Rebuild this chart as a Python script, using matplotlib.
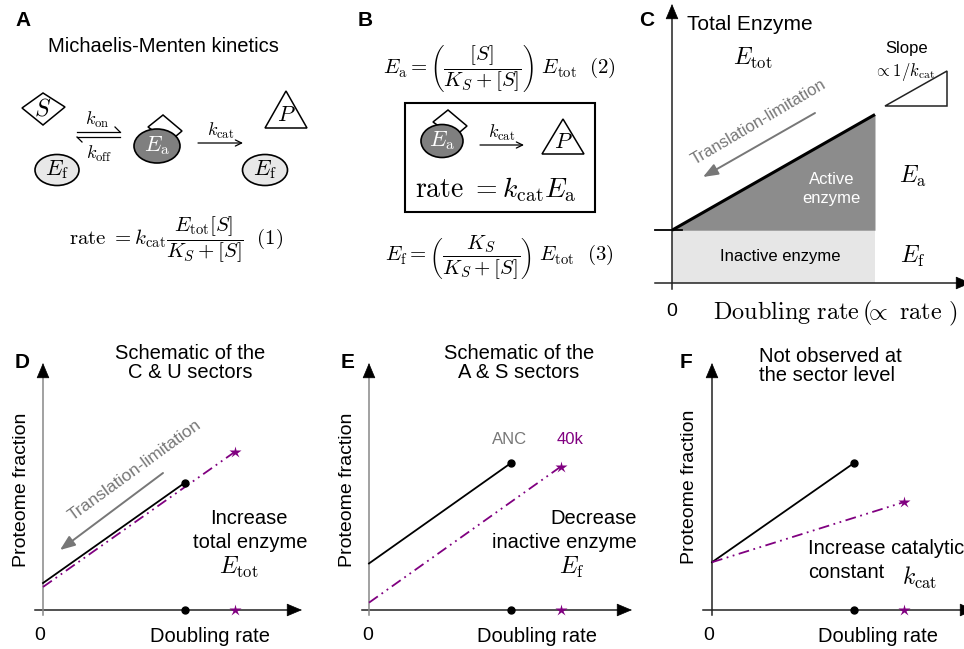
import matplotlib
matplotlib.use("Agg")
import matplotlib.pyplot as plt
from matplotlib.patches import Ellipse, Polygon, Rectangle

plt.rcParams['font.family'] = ['Liberation Sans', 'DejaVu Sans']
plt.rcParams['mathtext.fontset'] = 'cm'

W, H = 964, 649
PURPLE = '#800080'
GREY = '#777777'

# doubling rates of the two strains
rate_anc = 1.0
rate_40k = 1.35

# panel C: enzyme budget against doubling rate
c_rate = [0.0, 1.0]
c_inactive = [0.26, 0.26]
c_total = [0.26, 0.83]

# panels D-F: proteome fraction at zero growth and at each strain's rate
d_anc = [0.11, 0.52]
d_40k = [0.094, 0.645]
e_anc = [0.19, 0.60]
e_40k = [0.03, 0.585]
f_anc = [0.195, 0.60]
f_40k = [0.195, 0.44]

fig = plt.figure(figsize=(W / 100, H / 100), dpi=100)


def sketch_axes(ox, oy, tipx, tipy, sx, sy, xstart, ystart, xcol, ycol):
    """Axes whose origin sits at pixel (ox, oy), with arrow-headed axis lines."""
    ax = fig.add_axes([ox / W, 1 - oy / H, (tipx - ox) / W, (oy - tipy) / H])
    x1, y1 = (tipx - ox) / sx, (oy - tipy) / sy
    ax.set_xlim(0, x1)
    ax.set_ylim(0, y1)
    ax.axis('off')
    hx, hy = 14 / sx, 14 / sy
    ax.plot([(xstart - ox) / sx, x1 - hx], [0, 0], color=xcol, lw=1.1, clip_on=False)
    ax.plot([0, 0], [(oy - ystart) / sy, y1 - hy], color=ycol, lw=1.1, clip_on=False)
    head = dict(arrowstyle='-|>,head_length=1.0,head_width=0.42', color='k',
                lw=0.5, shrinkA=0, shrinkB=0, mutation_scale=10)
    ax.annotate('', xy=(x1, 0), xytext=(x1 - hx, 0), arrowprops=head, annotation_clip=False)
    ax.annotate('', xy=(0, y1), xytext=(0, y1 - hy), arrowprops=head, annotation_clip=False)
    return ax


def strain_lines(ax, anc, k40):
    ax.plot([0, rate_anc], anc, color='k', lw=1.3, clip_on=False)
    ax.plot([0, rate_40k], k40, color=PURPLE, lw=1.3, dashes=[6, 2.5, 1, 2.5, 1, 2.5],
            clip_on=False)
    ax.plot(rate_anc, anc[1], 'o', color='k', ms=5, clip_on=False)
    ax.plot(rate_40k, k40[1], '*', color=PURPLE, ms=9, mec='none', clip_on=False)
    ax.plot(rate_anc, 0, 'o', color='k', ms=5, clip_on=False, zorder=5)
    ax.plot(rate_40k, 0, '*', color=PURPLE, ms=9, mec='none', clip_on=False, zorder=5)


# ---- panel C
axc = sketch_axes(672, 283, 971, 4, 203, 203, 655, 289, '#222222', '#222222')
axc.fill_between(c_rate, 0, c_inactive, color='#e6e6e6', lw=0)
axc.fill_between(c_rate, c_inactive, c_total, color='#8c8c8c', lw=0)
axc.plot(c_rate, c_total, color='k', lw=2.2, solid_capstyle='butt')
axc.plot([-17 / 203, 10 / 203], [c_inactive[0]] * 2, color='k', lw=1.3, clip_on=False)

# ---- panels D, E, F
axd = sketch_axes(43, 610, 302, 363, 142, 245, 35, 615, '#222222', '#888888')
strain_lines(axd, d_anc, d_40k)
axe = sketch_axes(369, 610, 632, 363, 142, 245, 362, 615, '#222222', '#888888')
strain_lines(axe, e_anc, e_40k)
axf = sketch_axes(712, 610, 975, 363, 142, 245, 703, 615, '#222222', '#222222')
strain_lines(axf, f_anc, f_40k)

# ---- overlay in pixel coordinates for the schematics and labels
ov = fig.add_axes([0, 0, 1, 1])
ov.set_xlim(0, W)
ov.set_ylim(H, 0)
ov.axis('off')
ov.set_zorder(5)


def txt(x, y, s, **kw):
    kw.setdefault('ha', 'center')
    kw.setdefault('va', 'center')
    ov.text(x, y, s, **kw)


def enzyme(cx, cy, w, h, fill, label, tcol, bound=False):
    if bound:
        sq = [(cx - 9, cy - 19), (cx + 6, cy - 31), (cx + 25, cy - 15), (cx + 12, cy - 4)]
        ov.add_patch(Polygon(sq, closed=True, fc='white', ec='k', lw=1.1, zorder=2))
    ov.add_patch(Ellipse((cx, cy), w, h, fc=fill, ec='k', lw=1.2, zorder=3))
    txt(cx, cy, label, fontsize=16, color=tcol, zorder=4)


def product(cx, top, bottom, half):
    ov.add_patch(Polygon([(cx, top), (cx - half, bottom), (cx + half, bottom)],
                         closed=True, fc='white', ec='k', lw=1.1))
    txt(cx, bottom - (bottom - top) * 0.33, '$P$', fontsize=16)


def reaction_arrow(x0, x1, y, label):
    ov.annotate('', xy=(x1, y), xytext=(x0, y),
                arrowprops=dict(arrowstyle='->,head_length=0.45,head_width=0.22',
                                lw=0.9, color='k', shrinkA=0, shrinkB=0))
    txt((x0 + x1) / 2, y - 12, label, fontsize=13)


bold = dict(fontsize=15, fontweight='bold')
txt(23, 20, 'A', **bold)
txt(365, 20, 'B', **bold)
txt(647, 20, 'C', **bold)
txt(22, 362, 'D', **bold)
txt(348, 362, 'E', **bold)
txt(686, 362, 'F', **bold)

# ---- panel A
txt(163, 47, 'Michaelis-Menten kinetics', fontsize=14.5)
ov.add_patch(Polygon([(22, 108), (43, 93), (65, 107), (43, 125)], closed=True,
                     fc='white', ec='k', lw=1.1))
txt(43, 109, '$S$', fontsize=17)
enzyme(57, 170, 44, 31, '#e8e8e8', r'$E_{\mathrm{f}}$', 'k')
enzyme(157, 146, 46, 34, '#7f7f7f', r'$E_{\mathrm{a}}$', 'white', bound=True)
enzyme(265, 170, 45, 31, '#e8e8e8', r'$E_{\mathrm{f}}$', 'k')
ov.plot([77, 120], [132, 132], color='k', lw=0.9)
ov.plot([120, 115], [132, 127], color='k', lw=0.9)
ov.plot([77, 120], [137, 137], color='k', lw=0.9)
ov.plot([77, 82], [137, 142], color='k', lw=0.9)
txt(97, 120, r'$k_{\mathrm{on}}$', fontsize=13)
txt(99, 154, r'$k_{\mathrm{off}}$', fontsize=13)
reaction_arrow(198, 243, 143, r'$k_{\mathrm{cat}}$')
product(286, 91, 128, 21)
txt(176, 240, r'$\mathrm{rate}\ = k_{\mathrm{cat}}\dfrac{E_{\mathrm{tot}}[S]}{K_S+[S]}\ \ (1)$',
    fontsize=15)

# ---- panel B
txt(499, 69, r'$E_{\mathrm{a}} = \left(\dfrac{[S]}{K_S+[S]}\right)\ E_{\mathrm{tot}}\ \ (2)$',
    fontsize=15)
ov.add_patch(Rectangle((405, 103), 190, 109, fill=False, ec='k', lw=1.5))
enzyme(442, 141, 42, 33, '#7f7f7f', r'$E_{\mathrm{a}}$', 'white', bound=True)
reaction_arrow(480, 524, 145, r'$k_{\mathrm{cat}}$')
product(563, 119, 154, 21)
txt(496, 190, r'$\mathrm{rate}\ = k_{\mathrm{cat}}E_{\mathrm{a}}$', fontsize=20)
txt(499, 258, r'$E_{\mathrm{f}} = \left(\dfrac{K_S}{K_S+[S]}\right)\ E_{\mathrm{tot}}\ \ (3)$',
    fontsize=15)

# ---- panel C labels
txt(687, 25, 'Total Enzyme', fontsize=15, ha='left')
txt(753, 58, r'$E_{\mathrm{tot}}$', fontsize=17)
txt(907, 48, 'Slope', fontsize=12)
txt(905, 72, r'$\propto 1/k_{\mathrm{cat}}$', fontsize=12)
ov.add_patch(Polygon([(885, 106), (947, 106), (947, 71)], closed=True, fill=False,
                     ec='#222222', lw=1.1))
ov.annotate('', xy=(703, 177), xytext=(815, 113),
            arrowprops=dict(arrowstyle='-|>,head_length=0.9,head_width=0.35', color=GREY,
                            lw=1.4, shrinkA=0, shrinkB=0))
txt(759, 122, 'Translation-limitation', fontsize=12, color=GREY, rotation=30.5,
    rotation_mode='anchor')
txt(832, 179, 'Active', fontsize=12, color='white')
txt(831, 199, 'enzyme', fontsize=12, color='white')
txt(780, 257, 'Inactive enzyme', fontsize=12)
txt(913, 176, r'$E_{\mathrm{a}}$', fontsize=17)
txt(913, 256, r'$E_{\mathrm{f}}$', fontsize=17)
txt(672, 312, '0', fontsize=14)
txt(835, 313, r'$\mathrm{Doubling\ rate}\,(\!\!\propto\ \mathrm{rate}\ )$', fontsize=17.5)

# ---- panel D labels
txt(190, 363, 'Schematic of the\nC & U sectors', fontsize=14.5, linespacing=1.05)
txt(22, 490, 'Proteome fraction', fontsize=14, rotation=90)
ov.annotate('', xy=(60, 550), xytext=(163, 473),
            arrowprops=dict(arrowstyle='-|>,head_length=0.9,head_width=0.35', color=GREY,
                            lw=1.4, shrinkA=0, shrinkB=0))
txt(135, 470, 'Translation-limitation', fontsize=12.5, color=GREY, rotation=36,
    rotation_mode='anchor')
txt(249, 518, 'Increase', fontsize=14.5)
txt(250, 542, 'total enzyme', fontsize=14.5)
txt(239, 567, r'$E_{\mathrm{tot}}$', fontsize=17)
txt(40, 636, '0', fontsize=14)
txt(210, 637, 'Doubling rate', fontsize=14.5)

# ---- panel E labels
txt(519, 363, 'Schematic of the\nA & S sectors', fontsize=14.5, linespacing=1.05)
txt(348, 490, 'Proteome fraction', fontsize=14, rotation=90)
txt(510, 440, 'ANC', fontsize=12, color=GREY)
txt(570, 440, '40k', fontsize=12, color=PURPLE)
txt(637, 518, 'Decrease', fontsize=14.5, ha='right')
txt(637, 542, 'inactive enzyme', fontsize=14.5, ha='right')
txt(572, 567, r'$E_{\mathrm{f}}$', fontsize=17)
txt(368, 636, '0', fontsize=14)
txt(537, 637, 'Doubling rate', fontsize=14.5)

# ---- panel F labels
txt(759, 366, 'Not observed at\nthe sector level', fontsize=14.5, ha='left',
    linespacing=1.05)
txt(690, 487, 'Proteome fraction', fontsize=14, rotation=90)
txt(808, 549, 'Increase catalytic', fontsize=14.5, ha='left')
txt(808, 572, 'constant', fontsize=14.5, ha='left')
txt(920, 578, r'$k_{\mathrm{cat}}$', fontsize=17)
txt(709, 636, '0', fontsize=14)
txt(878, 637, 'Doubling rate', fontsize=14.5)

fig.savefig('out.png', dpi=100)
